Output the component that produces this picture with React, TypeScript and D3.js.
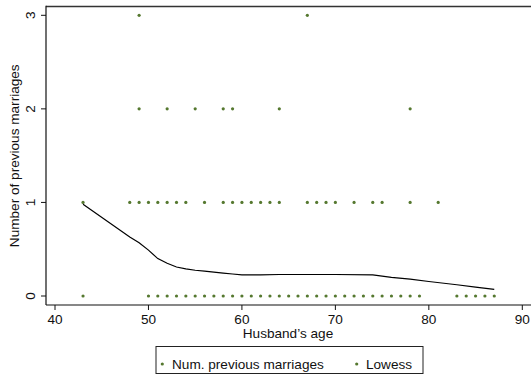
import { useMemo } from "react";
import { scaleLinear, line } from "d3";

const W = 531;
const H = 379;

// observed ages by number of previous marriages
const agesZero = [43, 50, 51, 52, 53, 54, 55, 56, 57, 58, 59, 60, 61, 62, 63, 64, 65, 66, 67, 68, 69, 70, 71, 72, 73, 74, 75, 76, 77, 78, 79, 83, 84, 85, 86, 87];
const agesOne = [43, 48, 49, 50, 51, 52, 53, 54, 56, 58, 59, 60, 61, 62, 63, 64, 67, 68, 69, 70, 72, 74, 75, 78, 81];
const agesTwo = [49, 52, 55, 58, 59, 64, 78];
const agesThree = [49, 67];

// lowess smooth
const lowessAge = [43, 48, 49, 50, 51, 52, 53, 54, 55, 56, 57, 58, 59, 60, 62, 64, 67, 70, 74, 76, 78, 80, 83, 85, 87];
const lowessVal = [0.98, 0.63, 0.57, 0.49, 0.4, 0.35, 0.31, 0.29, 0.275, 0.265, 0.255, 0.245, 0.235, 0.225, 0.225, 0.23, 0.23, 0.23, 0.225, 0.2, 0.18, 0.155, 0.12, 0.095, 0.07];

const xTicks = [40, 50, 60, 70, 80, 90];
const yTicks = [0, 1, 2, 3];

const GREEN = "#55782f";
const FONT = "'Liberation Sans', Arial, sans-serif";
const FS = 13.6;

export default function App() {
  const x = useMemo(() => scaleLinear().domain([40, 90]).range([55, 522.3]), []);
  const y = useMemo(() => scaleLinear().domain([0, 3]).range([296, 15.3]), []);

  const pts = [
    ...agesZero.map((a) => ({ a, v: 0 })),
    ...agesOne.map((a) => ({ a, v: 1 })),
    ...agesTwo.map((a) => ({ a, v: 2 })),
    ...agesThree.map((a) => ({ a, v: 3 })),
  ];

  const smooth = line<number>()
    .x((_, i) => x(lowessAge[i]))
    .y((d) => y(d));

  const axisX = 46;
  const axisY = 305;
  const top = 6.5;

  return (
    <svg width={W} height={H} style={{ position: "absolute", left: 0, top: 0, background: "#fff" }} fontFamily={FONT}>
      {/* plot region outline: top edge + axes */}
      <line x1={axisX} x2={W + 5} y1={top} y2={top} stroke="#333" strokeWidth={1.6} />
      <line x1={axisX} x2={axisX} y1={top - 0.8} y2={axisY} stroke="#111" strokeWidth={1.2} />
      <line x1={axisX} x2={W + 5} y1={axisY} y2={axisY} stroke="#111" strokeWidth={1.2} />

      {yTicks.map((t) => (
        <g key={t}>
          <line x1={axisX - 5} x2={axisX} y1={y(t)} y2={y(t)} stroke="#111" strokeWidth={1} />
          <text
            transform={`translate(35,${y(t)}) rotate(-90)`}
            textAnchor="middle"
            fontSize={FS}
            fill="#111"
          >
            {t}
          </text>
        </g>
      ))}

      {xTicks.map((t) => (
        <g key={t}>
          <line x1={x(t)} x2={x(t)} y1={axisY} y2={axisY + 5} stroke="#111" strokeWidth={1} />
          <text x={x(t)} y={324} textAnchor="middle" fontSize={FS} fill="#111">
            {t}
          </text>
        </g>
      ))}

      <text x={288} y={338} textAnchor="middle" fontSize={FS} fill="#111">
        Husband’s age
      </text>
      <text transform={`translate(18.5,${(top + axisY) / 2}) rotate(-90)`} textAnchor="middle" fontSize={FS} fill="#111">
        Number of previous marriages
      </text>

      {pts.map((p, i) => (
        <circle key={i} cx={x(p.a)} cy={y(p.v)} r={1.6} fill={GREEN} />
      ))}

      <path d={smooth(lowessVal) ?? undefined} fill="none" stroke="#000" strokeWidth={1.2} />

      {/* legend */}
      <rect x={156} y={346.5} width={267} height={27} fill="#fff" stroke="#222" strokeWidth={1} />
      <circle cx={162.3} cy={364} r={1.6} fill={GREEN} />
      <text x={172} y={369} fontSize={FS} fill="#111">
        Num. previous marriages
      </text>
      <circle cx={356.7} cy={364} r={1.6} fill={GREEN} />
      <text x={366} y={369} fontSize={FS} fill="#111">
        Lowess
      </text>
    </svg>
  );
}
